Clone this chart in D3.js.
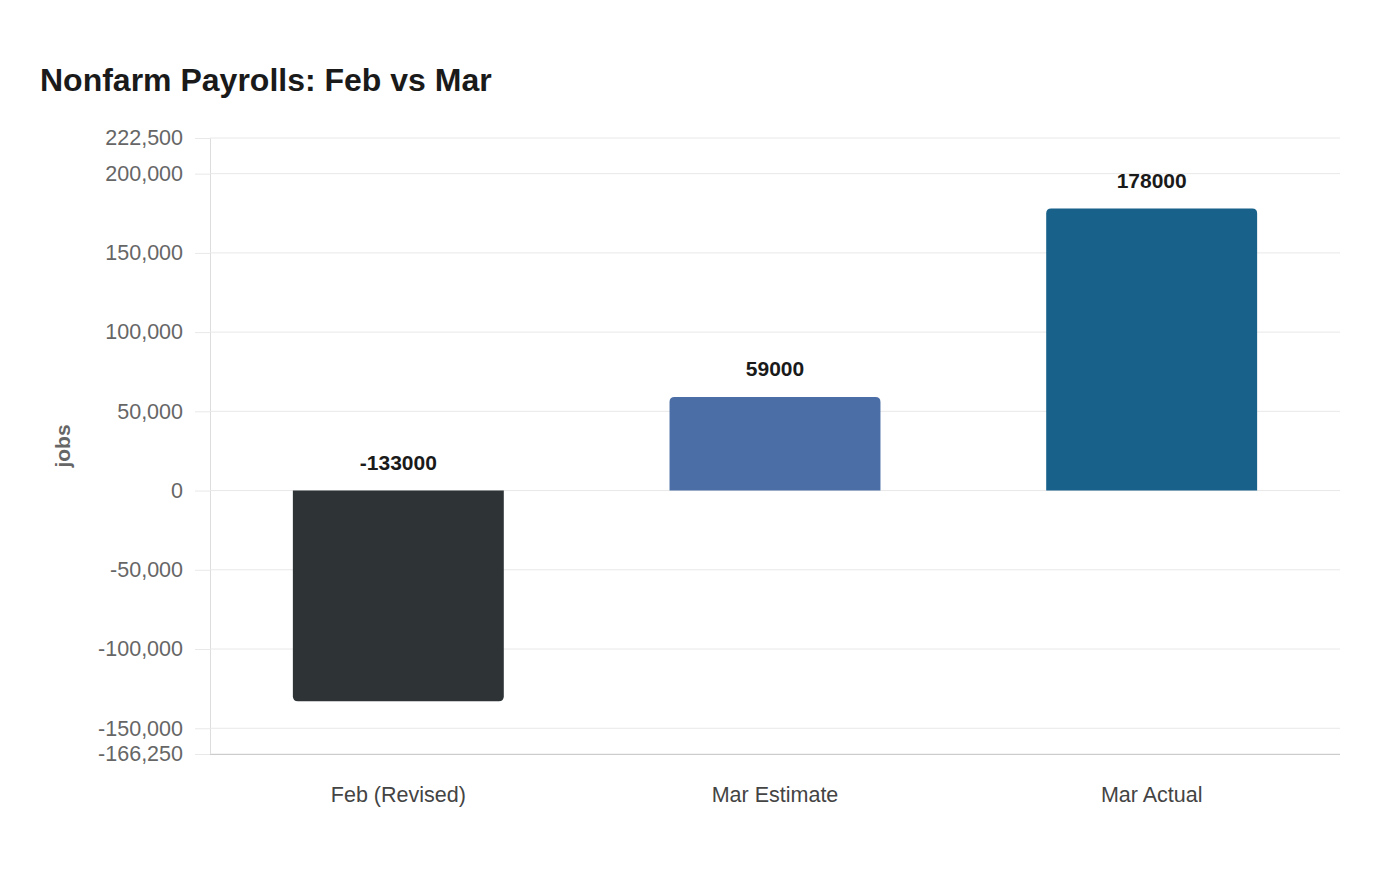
<!DOCTYPE html>
<html>
<head>
<meta charset="utf-8">
<script src="https://cdn.jsdelivr.net/npm/d3@7"></script>
<style>
  body { margin: 0; background: #fff; }
  text { font-family: "Liberation Sans", Arial, sans-serif; }
</style>
</head>
<body>
<div class="chart"></div>
<script>
const categories = ["Feb (Revised)", "Mar Estimate", "Mar Actual"];
const values = [-133000, 59000, 178000];
const colors = ["#2e3436", "#4a6ea5", "#17618a"];
const yTicks = [-166250, -150000, -100000, -50000, 0, 50000, 100000, 150000, 200000, 222500];
const yDomain = [-166250, 222500];

const width = 1400, height = 880;
const margin = {top: 138, right: 60, bottom: 126, left: 210};

const svg = d3.select(".chart").append("svg")
    .attr("width", width)
    .attr("height", height);

svg.append("text")
    .attr("x", 40)
    .attr("y", 91)
    .attr("font-size", 32)
    .attr("font-weight", "bold")
    .attr("fill", "#1a1a1a")
    .text("Nonfarm Payrolls: Feb vs Mar");

const x = d3.scaleBand()
    .domain(categories)
    .range([margin.left, width - margin.right])
    .paddingInner(0.44)
    .paddingOuter(0.22);

const y = d3.scaleLinear()
    .domain(yDomain)
    .range([height - margin.bottom, margin.top]);

const fmt = v => d3.format(",")(v).replace("\u2212", "-");

// y ticks
const yAxis = svg.append("g")
    .attr("transform", `translate(${margin.left},0)`)
    .call(d3.axisLeft(y).tickValues(yTicks).tickFormat(fmt).tickSize(15).tickPadding(12));
yAxis.select(".domain").attr("stroke", "#dddddd");
yAxis.selectAll(".tick line").attr("stroke", "#e8e8e8");
yAxis.selectAll(".tick text").attr("font-size", 21.5).attr("fill", "#666");

// grid
svg.append("g")
    .selectAll("line")
    .data(yTicks)
    .join("line")
    .attr("x1", margin.left)
    .attr("x2", width - margin.right)
    .attr("y1", d => y(d))
    .attr("y2", d => y(d))
    .attr("stroke", "#e8e8e8");

// x axis
const xAxis = svg.append("g")
    .attr("transform", `translate(0,${height - margin.bottom})`)
    .call(d3.axisBottom(x).tickSize(0).tickPadding(33));
xAxis.select(".domain").attr("stroke", "#cccccc").attr("d", `M${margin.left},0.5H${width - margin.right}`);
xAxis.selectAll(".tick text").attr("font-size", 21.5).attr("fill", "#444");

// bars with rounded far end
const r = 5;
function barPath(d, i) {
    const x0 = x(categories[i]), w = x.bandwidth();
    const y0 = y(0), y1 = y(d);
    if (d >= 0) {
        return `M${x0},${y0}V${y1 + r}Q${x0},${y1} ${x0 + r},${y1}H${x0 + w - r}Q${x0 + w},${y1} ${x0 + w},${y1 + r}V${y0}Z`;
    }
    return `M${x0},${y0}V${y1 - r}Q${x0},${y1} ${x0 + r},${y1}H${x0 + w - r}Q${x0 + w},${y1} ${x0 + w},${y1 - r}V${y0}Z`;
}

svg.append("g")
    .selectAll("path")
    .data(values)
    .join("path")
    .attr("d", barPath)
    .attr("fill", (d, i) => colors[i]);

svg.append("g")
    .selectAll("text")
    .data(values)
    .join("text")
    .attr("x", (d, i) => x(categories[i]) + x.bandwidth() / 2)
    .attr("y", d => y(Math.max(d, 0)) - 21)
    .attr("text-anchor", "middle")
    .attr("font-size", 21)
    .attr("font-weight", "bold")
    .attr("fill", "#1a1a1a")
    .text(d => d);

svg.append("text")
    .attr("transform", `translate(70,${(margin.top + height - margin.bottom) / 2}) rotate(-90)`)
    .attr("text-anchor", "middle")
    .attr("font-size", 21)
    .attr("font-weight", "bold")
    .attr("fill", "#666")
    .text("jobs");
</script>
</body>
</html>
